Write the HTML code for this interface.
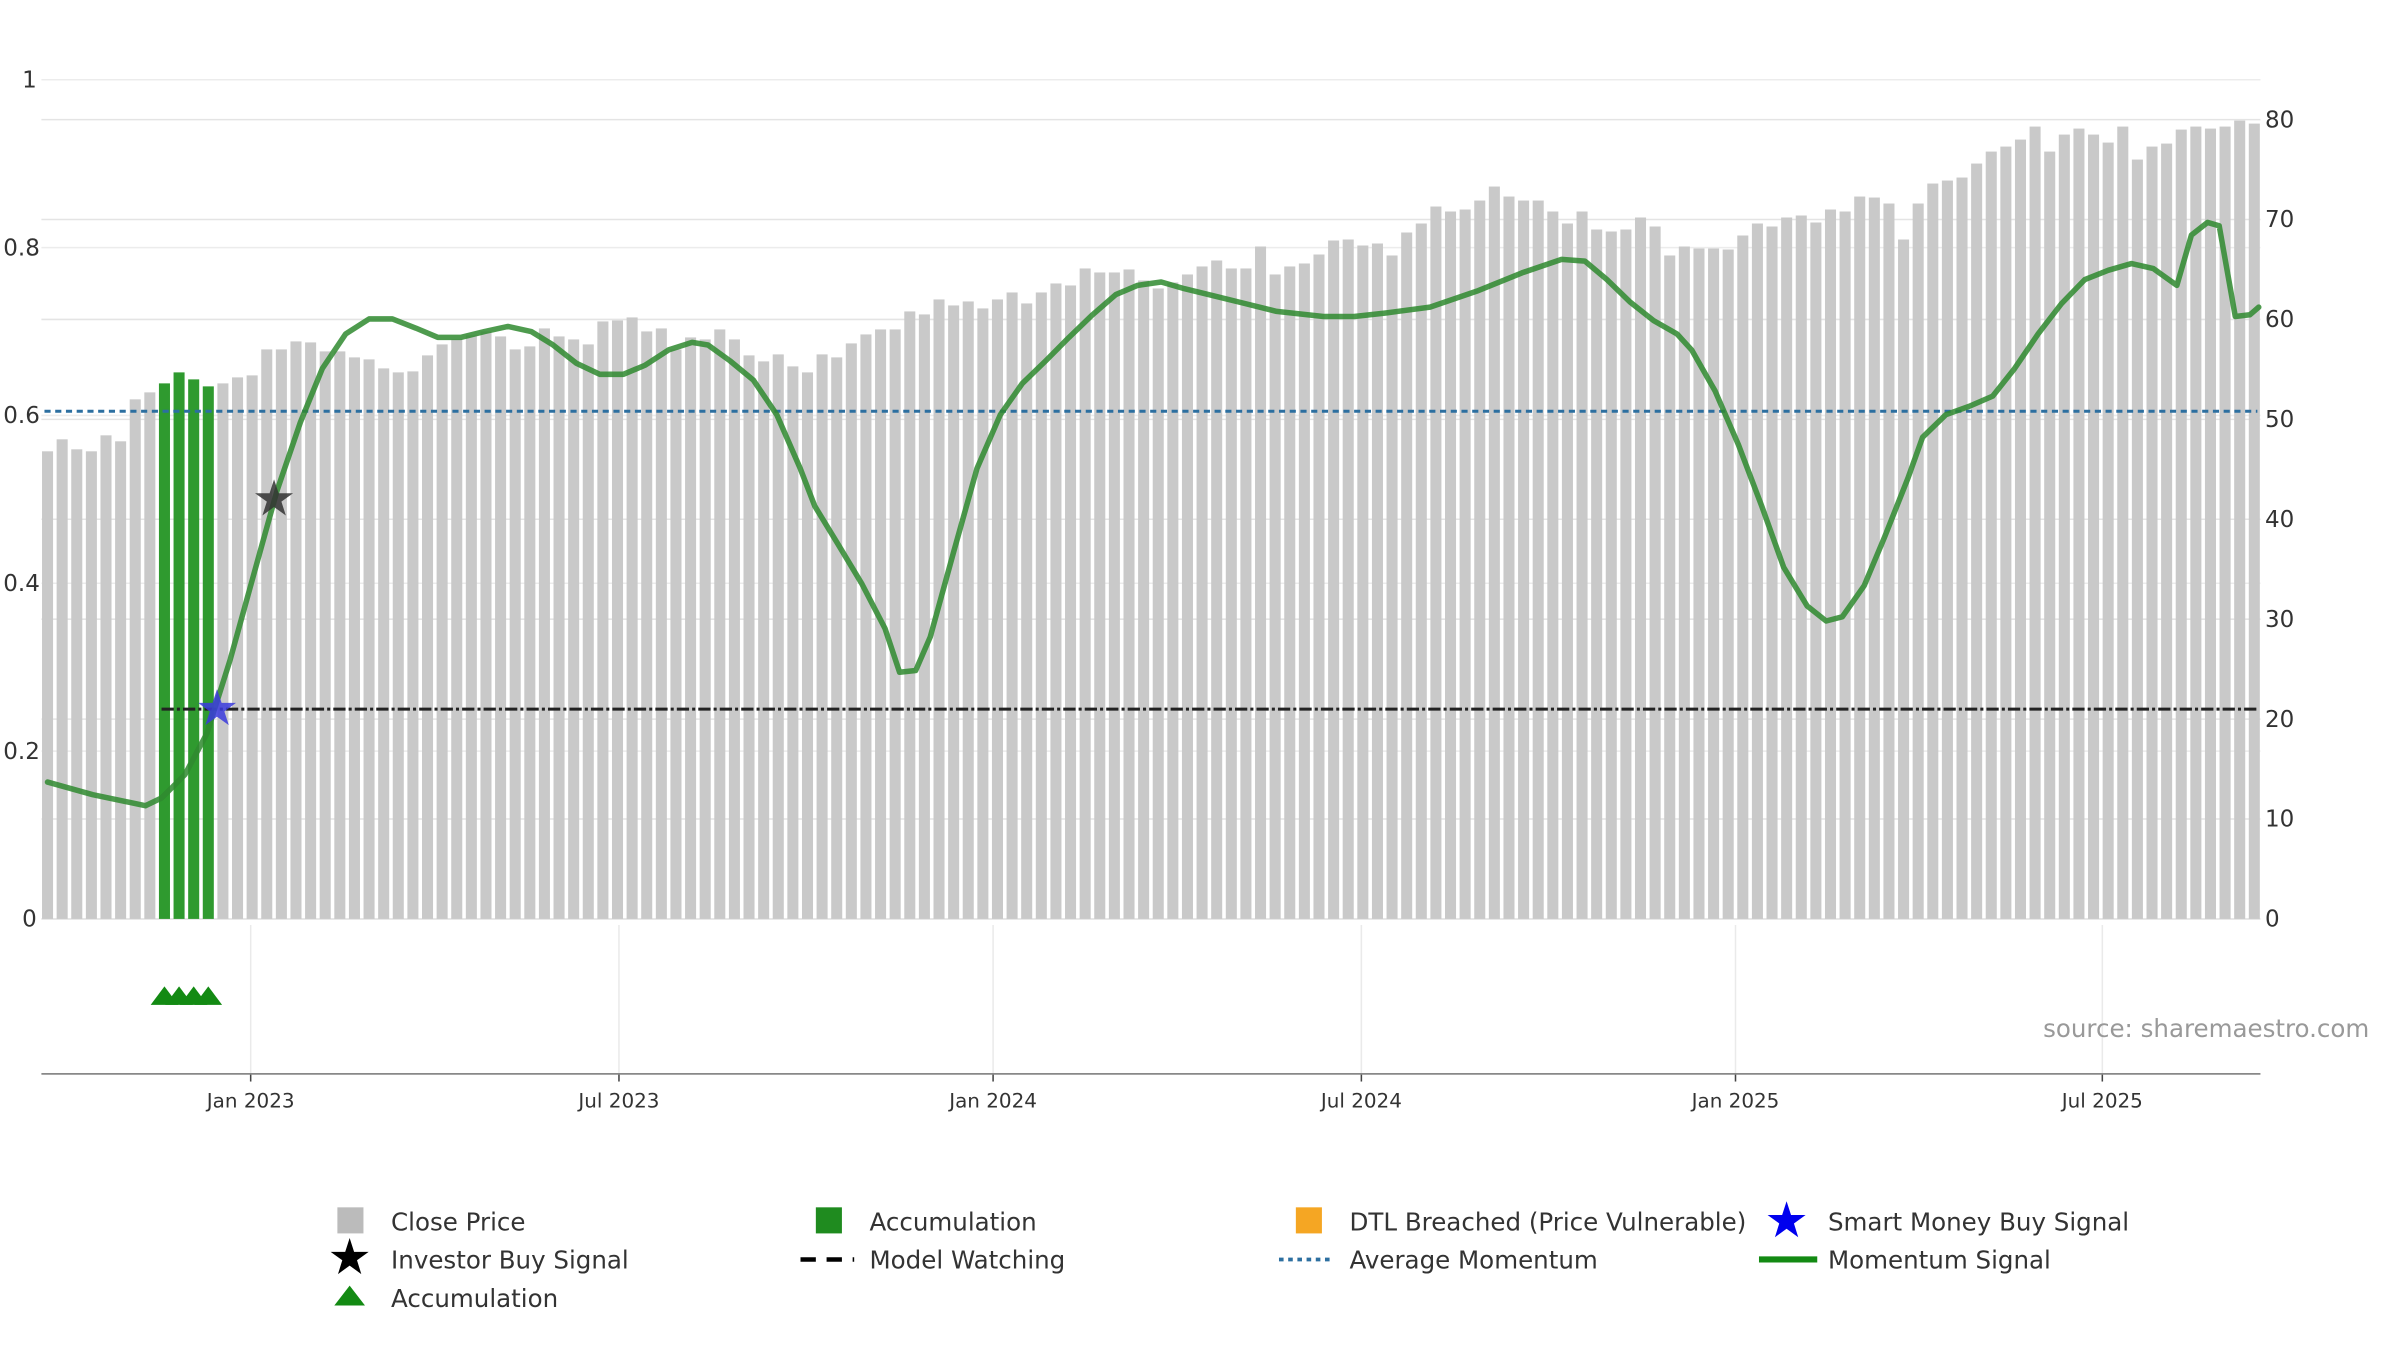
<!DOCTYPE html>
<html><head><meta charset="utf-8"><style>
html,body{margin:0;padding:0;background:#fff;}
svg{display:block;font-family:"DejaVu Sans","Liberation Sans",sans-serif;}
</style></head><body>
<svg id="chart" width="2400" height="1350" viewBox="0 0 1565 880" preserveAspectRatio="none" xmlns="http://www.w3.org/2000/svg">
<g id="grid"></g>
<g id="bars"></g>
<g id="lines"></g>
<g id="axes"></g>
<text x="1545" y="676" text-anchor="end" font-size="16" fill="#999">source: sharemaestro.com</text>
<g id="legend" font-size="16" fill="#333">
<rect x="220" y="787" width="17" height="17" fill="#bbb"/>
<text x="255" y="802">Close Price</text>
<rect x="532" y="787" width="17" height="17" fill="#1f8b1f"/>
<text x="567" y="802">Accumulation</text>
<rect x="845" y="787" width="17" height="17" fill="#f5a623"/>
<text x="880" y="802">DTL Breached (Price Vulnerable)</text>
<polygon id="ls1" fill="#0000ee"/>
<text x="1192" y="802">Smart Money Buy Signal</text>
<polygon id="ls2" fill="#000"/>
<text x="255" y="827">Investor Buy Signal</text>
<line x1="522" y1="821" x2="557" y2="821" stroke="#000" stroke-width="3" stroke-dasharray="10,7"/>
<text x="567" y="827">Model Watching</text>
<line x1="834" y1="821" x2="870" y2="821" stroke="#2c6fa0" stroke-width="2.5" stroke-dasharray="3,3"/>
<text x="880" y="827">Average Momentum</text>
<line x1="1147" y1="821" x2="1185" y2="821" stroke="#138a13" stroke-width="4"/>
<text x="1192" y="827">Momentum Signal</text>
<polygon points="218,851 228,838 238,851" fill="#138a13"/>
<text x="255" y="852">Accumulation</text>
</g>
</svg>
<script>
const closePrice=[46.8,48,47,46.8,48.4,47.8,52,52.7,53.6,54.7,54,53.3,53.6,54.2,54.4,57,57,57.8,57.7,56.8,56.8,56.2,56,55.1,54.7,54.8,56.4,57.5,58,58.4,58.8,58.3,57,57.3,59.1,58.3,58,57.5,59.8,59.9,60.2,58.8,59.1,57,58.2,58,59,58,56.4,55.8,56.5,55.3,54.7,56.5,56.2,57.6,58.5,59,59,60.8,60.5,62,61.4,61.8,61.1,62,62.7,61.6,62.7,63.6,63.4,65.1,64.7,64.7,65,63.9,63.1,63.7,64.5,65.3,65.9,65.1,65.1,67.3,64.5,65.3,65.6,66.5,67.9,68,67.4,67.6,66.4,68.7,69.6,71.3,70.8,71,71.9,73.3,72.3,71.9,71.9,70.8,69.6,70.8,69,68.8,69,70.2,69.3,66.4,67.3,67.1,67.1,67,68.4,69.6,69.3,70.2,70.4,69.7,71,70.8,72.3,72.2,71.6,68,71.6,73.6,73.9,74.2,75.6,76.8,77.3,78,79.3,76.8,78.5,79.1,78.5,77.7,79.3,76,77.3,77.6,79,79.3,79.1,79.3,79.9,79.6];
const accumulationWeeks=[8,9,10,11];
const momWeek=[0,3.1,6.7,7.8,9.4,10.9,12.5,14.1,15.7,17.3,18.8,20.4,22,23.6,25.2,26.7,28.3,29.9,31.5,33.1,34.6,36.2,37.8,39.4,40.9,42.5,44.1,45.2,46.7,48.3,49.9,51.5,52.5,54.1,55.7,57.3,58.3,59.4,60.4,62,63.6,65.2,66.7,68.3,69.9,71.5,73.1,74.6,76.2,77.8,79.9,82,84.1,87.3,89.4,91.5,94.6,97.8,100.9,103.6,105.2,106.7,108.3,109.9,111.5,112.5,114.1,115.7,117.3,118.8,120.4,121.7,122.8,124.3,125.7,127.3,128.3,129.9,131.5,133.1,134.6,136.2,137.8,139.4,141,142.6,144.1,145.7,146.7,147.8,148.6,149.7,150.7,151.3];
const momValue=[0.163,0.148,0.135,0.144,0.172,0.221,0.309,0.41,0.51,0.592,0.656,0.697,0.715,0.715,0.704,0.693,0.693,0.70,0.706,0.70,0.684,0.662,0.649,0.649,0.66,0.678,0.687,0.684,0.665,0.642,0.601,0.537,0.492,0.446,0.40,0.346,0.294,0.296,0.336,0.437,0.537,0.601,0.638,0.665,0.693,0.72,0.744,0.755,0.759,0.751,0.742,0.733,0.724,0.718,0.718,0.722,0.729,0.748,0.77,0.786,0.784,0.762,0.735,0.713,0.697,0.678,0.629,0.565,0.492,0.419,0.373,0.355,0.36,0.397,0.455,0.525,0.574,0.601,0.611,0.623,0.656,0.697,0.733,0.762,0.773,0.781,0.775,0.755,0.815,0.83,0.826,0.718,0.72,0.729];
const avgMomentum=0.605;
const modelWatchingLevel=21;
const modelWatchingStartWeek=7.8;
const investorBuy={week:15.5,mom:0.5};
const smartMoneyBuy={week:11.6,price:21};
const leftTicks=[0,0.2,0.4,0.6,0.8,1];
const rightTicks=[0,10,20,30,40,50,60,70,80];
const xTickLabels=["Jan 2023","Jul 2023","Jan 2024","Jul 2024","Jan 2025","Jul 2025"];
const xTickWeeks=[13.9,39.1,64.7,89.9,115.5,140.6];

const NS="http://www.w3.org/2000/svg";
const X0=31,X1=1470,YB=599;
const xs=w=>X0+w*(X1-X0)/(closePrice.length-1);
const yL=v=>YB-v*547;
const yR=v=>YB-v*6.513;
function mk(tag,attrs,parent){const e=document.createElementNS(NS,tag);for(const k in attrs)e.setAttribute(k,attrs[k]);parent.appendChild(e);return e;}
function starPts(cx,cy,R,r){let p=[];for(let i=0;i<10;i++){const a=-Math.PI/2+i*Math.PI/5,rr=i%2?r:R;p.push((cx+rr*Math.cos(a)).toFixed(1)+","+(cy+rr*Math.sin(a)).toFixed(1));}return p.join(" ");}
const grid=document.getElementById('grid'),bars=document.getElementById('bars'),lines=document.getElementById('lines'),axes=document.getElementById('axes');
leftTicks.forEach(t=>{
 const g=mk('line',{x1:27,x2:1474,y1:yL(t),y2:yL(t),stroke:'#ececec','stroke-width':1},grid);
 
 
 const tx=mk('text',{x:t===0||t===1?24:26,y:yL(t)+5,'text-anchor':'end','font-size':15,fill:'#333'},axes);
 tx.textContent=String(t);
 
 
});
rightTicks.forEach(t=>{
 const g=mk('line',{x1:27,x2:1474,y1:yR(t),y2:yR(t),stroke:'#e4e4e4','stroke-width':1},grid);
 
 
 const tx=mk('text',{x:1477,y:yR(t)+5,'font-size':15,fill:'#333'},axes);
 tx.textContent=String(t);
 
 
});
xTickWeeks.forEach((w,i)=>{
 const x=xs(w);
 const g=mk('line',{x1:x,x2:x,y1:603,y2:700,stroke:'#eaeaea','stroke-width':1},grid);
 
 
 const tk=mk('line',{x1:x,x2:x,y1:700,y2:705,stroke:'#444','stroke-width':1},axes);
 
 
 const tx=mk('text',{x:x,y:722,'text-anchor':'middle','font-size':13,fill:'#333'},axes);
 tx.textContent=xTickLabels[i];
 
 
});
const ax=mk('line',{x1:27,x2:1474,y1:700,y2:700,stroke:'#888','stroke-width':1.2},axes);


const bw=7.2;
closePrice.forEach((v,i)=>{
 const acc=accumulationWeeks.includes(i);
 const r=mk('rect',{x:xs(i)-bw/2,y:yR(v),width:bw,height:YB-yR(v),fill:acc?'#2f9a2f':'#c9c9c9'},bars);
 
 
});
accumulationWeeks.forEach(w=>{
 const x=xs(w);
 const t=mk('polygon',{points:`${x-9},655 ${x},643 ${x+9},655`,fill:'#138a13'},lines);
 
 
});
const avg=mk('line',{x1:29,x2:1472,y1:yL(avgMomentum),y2:yL(avgMomentum),stroke:'#2c6fa0','stroke-width':2,'stroke-dasharray':'4,3'},lines);


const mw=mk('line',{x1:xs(modelWatchingStartWeek),x2:1472,y1:yR(modelWatchingLevel),y2:yR(modelWatchingLevel),stroke:'#222','stroke-width':2,'stroke-dasharray':'8,2,2,2'},lines);


const pts=momWeek.map((w,i)=>xs(w).toFixed(1)+","+yL(momValue[i]).toFixed(1)).join(" ");
const ml=mk('polyline',{points:pts,fill:'none',stroke:'#2f8a2f','stroke-opacity':0.85,'stroke-width':3.6,'stroke-linejoin':'round','stroke-linecap':'round'},lines);


const s1=mk('polygon',{points:starPts(xs(investorBuy.week),yL(investorBuy.mom),13,5),fill:'#333','fill-opacity':0.85},lines);


const s2=mk('polygon',{points:starPts(xs(smartMoneyBuy.week),yR(smartMoneyBuy.price),13,5),fill:'#3b3bdd','fill-opacity':0.85},lines);


document.getElementById('ls1').setAttribute('points',starPts(1165,796,13,5));
document.getElementById('ls2').setAttribute('points',starPts(228,820,13,5));
</script>
</body></html>
